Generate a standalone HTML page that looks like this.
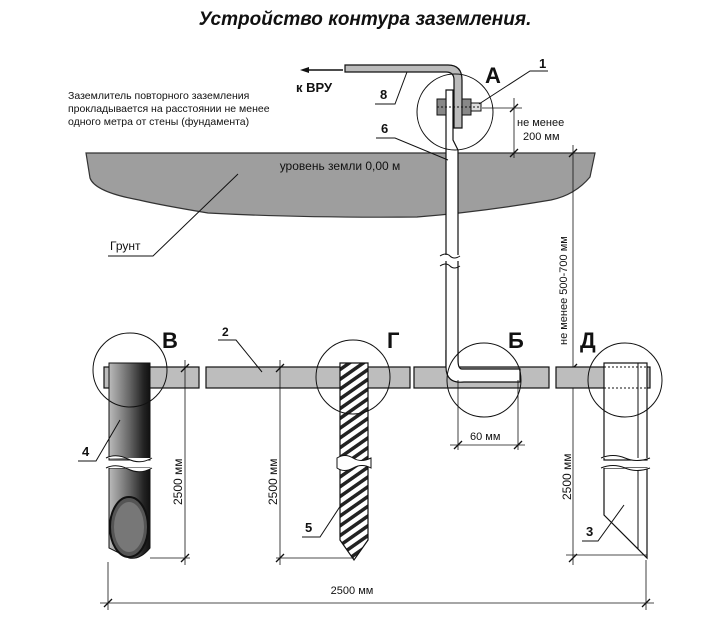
<!DOCTYPE html>
<html><head><meta charset="utf-8"><style>
html,body{margin:0;padding:0;background:#fff}
svg{display:block}
text{font-family:"Liberation Sans",sans-serif;fill:#111}
</style></head><body>
<svg width="726" height="619" viewBox="0 0 726 619" xmlns="http://www.w3.org/2000/svg">
<defs>
<pattern id="hatch" width="8" height="8" patternUnits="userSpaceOnUse" patternTransform="rotate(-35)">
<rect width="8" height="8" fill="#fff"/><rect width="8" height="3.5" fill="#222"/>
</pattern>
<linearGradient id="pipe" x1="0" x2="1">
<stop offset="0" stop-color="#bbb"/><stop offset="0.5" stop-color="#666"/><stop offset="0.85" stop-color="#222"/><stop offset="1" stop-color="#111"/>
</linearGradient>
</defs>
<rect width="726" height="619" fill="#fff"/>
<text x="365" y="25" font-size="19" font-weight="bold" font-style="italic" text-anchor="middle">Устройство контура заземления.</text>

<!-- ground -->
<path d="M86 153 L595 153 L590 177 Q575 195 551 200 Q480 212 417 217 Q300 218 208 213 Q160 205 139 200 Q95 192 90 178 Z" fill="#9e9e9e" stroke="#333" stroke-width="1.2"/>
<text x="340" y="170" font-size="12" text-anchor="middle" fill="#222">уровень земли 0,00 м</text>

<!-- paragraph -->
<text font-size="10.5"><tspan x="68" y="99">Заземлитель повторного заземления</tspan><tspan x="68" y="112">прокладывается на расстоянии не менее</tspan><tspan x="68" y="125">одного метра от стены (фундамента)</tspan></text>

<!-- к ВРУ -->
<line x1="343" y1="70" x2="304" y2="70" stroke="#111" stroke-width="1.5"/>
<path d="M300 70 L309 67 L309 73 Z" fill="#111"/>
<text x="296" y="92" font-size="13" font-weight="bold">к ВРУ</text>

<!-- strip 8 -->
<path d="M345 65 L448 65 Q462 65 462 80 L462 128 L454 128 L454 80 Q454 72 446 72 L345 72 Z" fill="#bbb" stroke="#111" stroke-width="1.2"/>
<text x="380" y="99" font-size="13" font-weight="bold">8</text>
<path d="M375 104 L395 104 L407 72" fill="none" stroke="#111"/>

<!-- rod 6 vertical -->
<path d="M446 90 L453 90 L453 140 L458 150 L458 372 Q458 369 462 369 L520 369 L520 382 L464 382 Q446 384 446 367 Z" fill="#fff" stroke="#111" stroke-width="1.2"/>
<line x1="443" y1="258" x2="462" y2="258" stroke="#fff" stroke-width="6"/>
<path d="M440 256 q6 -4 10 0 t10 0 M440 266 q6 -4 10 0 t10 0" fill="none" stroke="#111"/>
<!-- bolt -->
<rect x="437" y="99" width="9" height="16" fill="#888" stroke="#111"/>
<rect x="462" y="99" width="9" height="16" fill="#888" stroke="#111"/>
<rect x="471" y="103" width="10" height="8" fill="#ddd" stroke="#111"/>
<line x1="437" y1="107" x2="481" y2="107" stroke="#111" stroke-dasharray="2,2"/>
<circle cx="455" cy="112" r="38" fill="none" stroke="#111"/>
<text x="485" y="83" font-size="22" font-weight="bold">А</text>
<text x="539" y="68" font-size="13" font-weight="bold">1</text>
<path d="M548 71 L530 71 L479 104" fill="none" stroke="#111"/>
<text x="381" y="133" font-size="13" font-weight="bold">6</text>
<path d="M376 138 L395 138 L448 160" fill="none" stroke="#111"/>

<!-- dim 200 -->
<line x1="482" y1="108" x2="522" y2="108" stroke="#111" stroke-width="0.8"/>
<line x1="514" y1="98" x2="514" y2="158" stroke="#111" stroke-width="0.8"/>
<path d="M510 112 L518 104 M510 157 L518 149" stroke="#111" stroke-width="1.3"/>
<text x="517" y="126" font-size="11">не менее</text>
<text x="523" y="140" font-size="11">200 мм</text>

<!-- Грунт -->
<text x="110" y="250" font-size="12">Грунт</text>
<path d="M108 256 L153 256 L238 174" fill="none" stroke="#111"/>

<!-- right dimension -->
<line x1="573" y1="145" x2="573" y2="565" stroke="#111" stroke-width="0.8"/>
<path d="M569 157 L577 149 M569 372 L577 364 M569 562 L577 554" stroke="#111" stroke-width="1.3"/>
<text transform="translate(567,345) rotate(-90)" font-size="11">не менее 500-700 мм</text>
<text transform="translate(571,500) rotate(-90)" font-size="12">2500 мм</text>

<!-- horizontal strip 2 -->
<g fill="#bdbdbd" stroke="#111" stroke-width="1.2">
<rect x="104" y="367" width="95" height="21"/>
<rect x="206" y="367" width="204" height="21"/>
<rect x="414" y="367" width="135" height="21"/>
<rect x="556" y="367" width="94" height="21"/>
</g>
<!-- redraw hook over strip -->
<path d="M446 350 L446 367 Q446 384 464 382 L520 382 L520 369 L462 369 Q458 369 458 360 L458 350" fill="#fff" stroke="#111" stroke-width="1.2"/>

<!-- В pipe -->
<rect x="109" y="363" width="41" height="97" fill="url(#pipe)" stroke="#111"/>
<path d="M109 468 L150 468 L150 548 Q140 560 129 558 L109 548 Z" fill="url(#pipe)" stroke="#111"/>
<ellipse cx="129" cy="527" rx="19" ry="30" fill="#555" stroke="#111" stroke-width="2"/>
<ellipse cx="129" cy="527" rx="15" ry="25" fill="#777"/>
<path d="M106 458 q10 -5 22 1 t24 -1 M106 468 q10 -5 22 1 t24 -1" fill="#fff" stroke="#111"/>
<circle cx="130" cy="370" r="37" fill="none" stroke="#111"/>
<text x="162" y="348" font-size="22" font-weight="bold">В</text>
<text x="222" y="336" font-size="12" font-weight="bold">2</text>
<path d="M218 340 L236 340 L262 372" fill="none" stroke="#111"/>
<text x="82" y="456" font-size="13" font-weight="bold">4</text>
<path d="M78 461 L96 461 L120 420" fill="none" stroke="#111"/>
<!-- dim В -->
<line x1="185" y1="360" x2="185" y2="565" stroke="#111" stroke-width="0.8"/>
<line x1="150" y1="558" x2="190" y2="558" stroke="#111" stroke-width="0.8"/>
<path d="M181 372 L189 364 M181 562 L189 554" stroke="#111" stroke-width="1.3"/>
<text transform="translate(182,505) rotate(-90)" font-size="12">2500 мм</text>

<!-- Г rod -->
<path d="M340 363 L368 363 L368 540 L354 560 L340 540 Z" fill="url(#hatch)" stroke="#111" stroke-width="1.2"/>
<path d="M337 458 q8 -5 16 0 t18 0 L371 468 q-9 -5 -18 0 t-16 0 Z" fill="#fff" stroke="#111"/>
<circle cx="353" cy="377" r="37" fill="none" stroke="#111"/>
<text x="387" y="348" font-size="22" font-weight="bold">Г</text>
<line x1="280" y1="360" x2="280" y2="565" stroke="#111" stroke-width="0.8"/>
<line x1="276" y1="558" x2="354" y2="558" stroke="#111" stroke-width="0.8"/>
<path d="M276 372 L284 364 M276 562 L284 554" stroke="#111" stroke-width="1.3"/>
<text transform="translate(277,505) rotate(-90)" font-size="12">2500 мм</text>
<text x="305" y="532" font-size="13" font-weight="bold">5</text>
<path d="M302 537 L320 537 L341 505" fill="none" stroke="#111"/>

<!-- Б -->
<circle cx="484" cy="380" r="37" fill="none" stroke="#111"/>
<text x="508" y="348" font-size="22" font-weight="bold">Б</text>
<line x1="458" y1="380" x2="458" y2="450" stroke="#111" stroke-width="0.8"/>
<line x1="518" y1="380" x2="518" y2="450" stroke="#111" stroke-width="0.8"/>
<line x1="450" y1="445" x2="525" y2="445" stroke="#111" stroke-width="0.8"/>
<path d="M454 449 L462 441 M514 449 L522 441" stroke="#111" stroke-width="1.3"/>
<text x="470" y="440" font-size="11">60 мм</text>

<!-- Д angle -->
<rect x="604" y="363" width="43" height="97" fill="#fff" stroke="#111" stroke-width="1.2"/>
<line x1="638" y1="363" x2="638" y2="460" stroke="#111"/>
<line x1="604" y1="367" x2="650" y2="367" stroke="#111" stroke-dasharray="2,2"/>
<line x1="604" y1="388" x2="650" y2="388" stroke="#111" stroke-dasharray="2,2"/>
<path d="M604 468 L647 468 L647 558 L604 515 Z" fill="#fff" stroke="#111" stroke-width="1.2"/>
<line x1="638" y1="468" x2="638" y2="549" stroke="#111"/>
<path d="M601 458 q12 -5 24 0 t25 0 M601 468 q12 -5 24 0 t25 0" fill="#fff" stroke="#111"/>
<circle cx="625" cy="380" r="37" fill="none" stroke="#111"/>
<text x="580" y="348" font-size="22" font-weight="bold">Д</text>
<line x1="566" y1="555" x2="647" y2="555" stroke="#111" stroke-width="0.8"/>
<text x="586" y="536" font-size="13" font-weight="bold">3</text>
<path d="M582 541 L598 541 L624 505" fill="none" stroke="#111"/>

<!-- bottom dimension -->
<line x1="108" y1="562" x2="108" y2="610" stroke="#111" stroke-width="0.8"/>
<line x1="646" y1="560" x2="646" y2="610" stroke="#111" stroke-width="0.8"/>
<line x1="100" y1="603" x2="654" y2="603" stroke="#111" stroke-width="0.8"/>
<path d="M104 607 L112 599 M642 607 L650 599" stroke="#111" stroke-width="1.3"/>
<text x="352" y="594" font-size="11" text-anchor="middle">2500 мм</text>
</svg>
</body></html>
